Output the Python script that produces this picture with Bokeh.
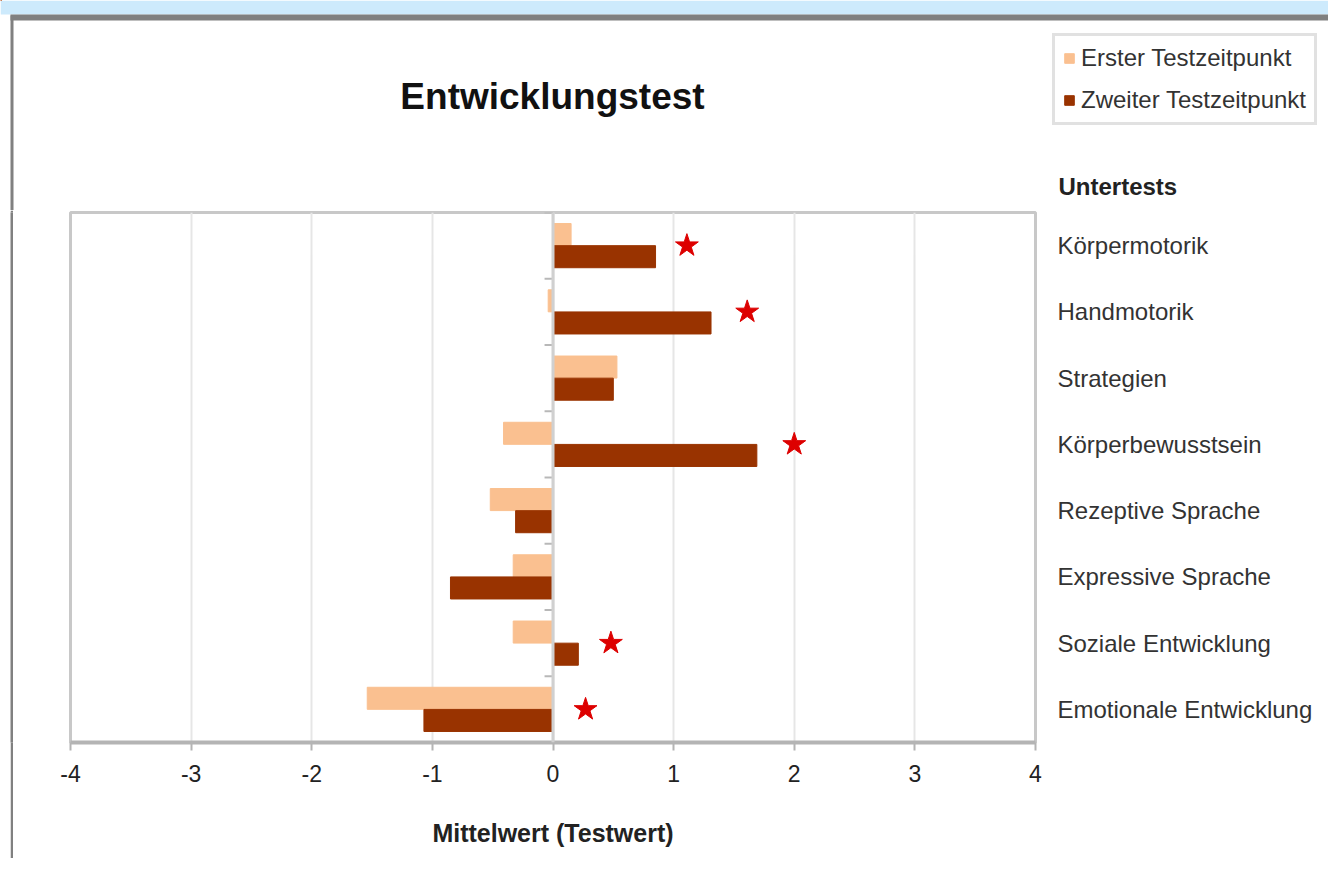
from bokeh.plotting import figure
from bokeh.layouts import column, row
from bokeh.models import (Label, Legend, LegendItem, Span, ColumnDataSource, FactorRange,
                          Range1d, Spacer)
from bokeh.transform import dodge
from bokeh.embed import file_html
from bokeh.resources import INLINE

categories = ["Körpermotorik", "Handmotorik", "Strategien", "Körperbewusstsein",
              "Rezeptive Sprache", "Expressive Sprache", "Soziale Entwicklung",
              "Emotionale Entwicklung"]
erster = [0.15, -0.04, 0.53, -0.41, -0.52, -0.33, -0.33, -1.54]
zweiter = [0.85, 1.31, 0.50, 1.69, -0.31, -0.85, 0.21, -1.07]
star_cats = ["Körpermotorik", "Handmotorik", "Körperbewusstsein",
             "Soziale Entwicklung", "Emotionale Entwicklung"]
star_vals = [1.11, 1.61, 2.0, 0.48, 0.27]
x_ticks = [-4, -3, -2, -1, 0, 1, 2, 3, 4]
series_names = ["Erster Testzeitpunkt", "Zweiter Testzeitpunkt"]
chart_title = "Entwicklungstest"
y_title = "Untertests"
x_title = "Mittelwert (Testwert)"

FONT = "Liberation Sans"
C1 = "#FAC090"
C2 = "#993300"
STAR = "#dd0000"
FRAME_GRAY = "#808080"

W, H = 1328, 858
HEAD_H = 210
PAD_W = 10
STRIP_W = 3
MAIN_H = H - HEAD_H
MAIN_W = W - PAD_W - STRIP_W

# ---------------- header (title, legend, y-axis title) ----------------
header = figure(width=W, height=HEAD_H, output_backend="svg", toolbar_location=None,
                x_range=Range1d(0, W), y_range=Range1d(HEAD_H, 0),
                x_axis_type=None, y_axis_type=None,
                min_border_left=0, min_border_right=0, min_border_top=0, min_border_bottom=0)
header.outline_line_color = None
header.xgrid.visible = False
header.ygrid.visible = False
header.background_fill_color = "white"
header.border_fill_color = "white"

# window decoration of the screenshot
header.quad(left=0, right=W, top=0, bottom=14, fill_color="#cdeafc", line_color=None)
header.quad(left=PAD_W, right=PAD_W + STRIP_W, top=15, bottom=HEAD_H,
            fill_color=FRAME_GRAY, line_color=None)
header.quad(left=PAD_W, right=W, top=14, bottom=20, fill_color=FRAME_GRAY, line_color=None)

header.add_layout(Label(x=552, y=96, text=chart_title, text_align="center",
                        text_baseline="middle", text_font=FONT, text_font_size="37px",
                        text_font_style="bold", text_color="#111111"))
header.add_layout(Label(x=1058, y=186, text=y_title, text_align="left",
                        text_baseline="middle", text_font=FONT, text_font_size="24px",
                        text_font_style="bold", text_color="#222222"))

# legend proxies (one row each, placed outside the visible header range)
proxy = ColumnDataSource(dict(y=[-100], l=[0], r=[1]))
lr1 = header.hbar(y="y", left="l", right="r", height=1, fill_color=C1, line_color=C1, source=proxy)
lr2 = header.hbar(y="y", left="l", right="r", height=1, fill_color=C2, line_color=C2, source=proxy)
legend = Legend(items=[LegendItem(label=series_names[0], renderers=[lr1]),
                       LegendItem(label=series_names[1], renderers=[lr2])],
                location=(1052, HEAD_H - 125), orientation="vertical")
legend.border_line_color = "#c4c4c4"
legend.border_line_width = 3
legend.background_fill_color = "white"
legend.padding = 8
legend.spacing = 14
legend.glyph_width = 12
legend.glyph_height = 12
legend.label_height = 24
legend.label_standoff = 6
legend.label_text_font = FONT
legend.label_text_font_size = "24px"
legend.label_text_color = "#333333"
header.add_layout(legend, "center")

# ---------------- left border strip (window edge) ----------------
strip = figure(width=STRIP_W, height=MAIN_H, output_backend="svg", toolbar_location=None,
               x_axis_type=None, y_axis_type=None,
               min_border_left=0, min_border_right=0, min_border_top=0, min_border_bottom=0)
strip.outline_line_color = None
strip.xgrid.visible = False
strip.ygrid.visible = False
strip.background_fill_color = FRAME_GRAY
strip.border_fill_color = FRAME_GRAY

# ---------------- main chart ----------------
src = ColumnDataSource(dict(cat=categories, erster=erster, zweiter=zweiter,
                            zero=[0] * len(categories), tick0=[-0.07] * len(categories)))

p = figure(width=MAIN_W, height=MAIN_H, output_backend="svg", toolbar_location=None,
           x_range=(-4, 4), y_range=FactorRange(*reversed(categories)),
           y_axis_location="right", min_border_left=70 - PAD_W - STRIP_W,
           min_border_right=MAIN_W - (1035 - PAD_W - STRIP_W),
           min_border_top=2, min_border_bottom=116)
p.background_fill_color = "white"
p.border_fill_color = "white"
p.outline_line_color = "#c8c8c8"
p.outline_line_width = 3

p.xgrid.ticker = x_ticks
p.xgrid.grid_line_color = "#e6e6e6"
p.xgrid.grid_line_width = 2
p.ygrid.grid_line_color = None

p.hbar(y=dodge("cat", 0.167, range=p.y_range), left="zero", right="erster", height=0.333,
       fill_color=C1, line_color=C1, source=src)
p.hbar(y=dodge("cat", -0.167, range=p.y_range), left="zero", right="zweiter", height=0.333,
       fill_color=C2, line_color=C2, source=src)

p.add_layout(Span(location=0, dimension="height", line_color="#d0d0d0", line_width=3))
p.segment(x0="tick0", x1="zero", y0=dodge("cat", 0.5, range=p.y_range),
          y1=dodge("cat", 0.5, range=p.y_range), line_color="#b8b8b8", line_width=2, source=src)

p.scatter(x=star_vals, y=star_cats, marker="star", size=24, fill_color=STAR, line_color=STAR)

xa = p.xaxis[0]
xa.ticker = x_ticks
xa.major_label_overrides = {t: str(t) for t in x_ticks}
xa.axis_line_color = "#b4b4b4"
xa.axis_line_width = 4
xa.major_tick_line_color = "#b4b4b4"
xa.major_tick_line_width = 2
xa.major_tick_in = 0
xa.major_tick_out = 8
xa.minor_tick_line_color = None
xa.major_label_standoff = 14
xa.major_label_text_font = FONT
xa.major_label_text_font_size = "23px"
xa.major_label_text_color = "#222222"
xa.axis_label = x_title
xa.axis_label_text_font = FONT
xa.axis_label_text_font_size = "25px"
xa.axis_label_text_font_style = "bold"
xa.axis_label_text_color = "#222222"
xa.axis_label_standoff = 34

ya = p.yaxis[0]
ya.axis_line_color = None
ya.major_tick_line_color = None
ya.minor_tick_line_color = None
ya.major_label_standoff = 16
ya.major_label_text_font = FONT
ya.major_label_text_font_size = "24px"
ya.major_label_text_color = "#333333"

layout = column(header, row(Spacer(width=PAD_W, height=MAIN_H), strip, p, spacing=0), spacing=0)
open("out.html", "w").write(file_html(layout, INLINE))
